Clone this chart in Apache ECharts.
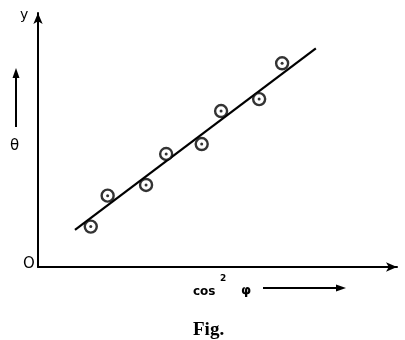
<!DOCTYPE html>
<html>
<head>
<meta charset="utf-8">
<script src="https://cdn.jsdelivr.net/npm/echarts@6/dist/echarts.min.js"></script>
<style>
  html, body { margin: 0; padding: 0; background: #fff; }
  #chart { width: 405px; height: 340px; }
</style>
</head>
<body>
<div id="chart"></div>
<script>
// measured points (cos^2 phi, theta), arbitrary units
const cosSq = [1.47, 1.94, 3.01, 3.57, 4.56, 5.10, 6.16, 6.80];
const theta = [1.59, 2.81, 3.23, 4.45, 4.84, 6.14, 6.61, 8.02];
// drawn best-fit line end points
const fitX = [1.03, 7.74];
const fitY = [1.46, 8.61];

const pts = cosSq.map((x, i) => [x, theta[i]]);
const fit = fitX.map((x, i) => [x, fitY[i]]);

const myChart = echarts.init(document.getElementById("chart"));

const axisCommon = {
  type: "value",
  min: 0,
  max: 10,
  axisLine: {
    show: true,
    onZero: false,
    symbol: ["none", "arrow"],
    symbolSize: [7, 11],
    symbolOffset: [0, 0],
    lineStyle: { color: "#000", width: 2 },
  },
  axisTick: { show: false },
  axisLabel: { show: false },
  splitLine: { show: false },
};

myChart.setOption({
  animation: false,
  title: {
    text: "Fig.",
    left: 188,
    top: 316,
    textStyle: {
      fontFamily: "Liberation Serif",
      fontWeight: "bold",
      fontSize: 19,
      color: "#000",
    },
  },
  grid: { left: 38, right: 8, top: 13, bottom: 73 },
  xAxis: axisCommon,
  yAxis: axisCommon,
  series: [
    {
      type: "line",
      data: fit,
      symbol: "none",
      lineStyle: { color: "#000", width: 2.2 },
      z: 2,
    },
    {
      type: "scatter",
      data: pts,
      symbol: "circle",
      symbolSize: 12,
      itemStyle: { color: "#fff", borderColor: "#000", borderWidth: 2.4 },
      z: 3,
    },
    {
      type: "scatter",
      data: pts,
      symbol: "circle",
      symbolSize: 3,
      itemStyle: { color: "#000" },
      z: 4,
    },
  ],
  graphic: [
    { type: "text", left: 20, top: 8, style: { text: "y", font: "14px DejaVu Sans", fill: "#000" } },
    { type: "text", left: 23, top: 257, style: { text: "O", font: "15px DejaVu Sans", fill: "#000" } },
    { type: "text", left: 10, top: 139, style: { text: "θ", font: "15px DejaVu Sans", fill: "#000" } },
    // theta arrow
    { type: "line", shape: { x1: 16, y1: 127, x2: 16, y2: 76 }, style: { stroke: "#000", lineWidth: 2 } },
    { type: "polygon", shape: { points: [[16, 68], [12.5, 78], [19.5, 78]] }, style: { fill: "#000" } },
    // x label
    { type: "text", left: 193, top: 286, style: { text: "cos", font: "bold 12px DejaVu Sans", fill: "#000" } },
    { type: "text", left: 220, top: 274, style: { text: "2", font: "bold 9px DejaVu Sans", fill: "#000" } },
    { type: "text", left: 241, top: 284, style: { text: "φ", font: "bold 13px DejaVu Sans", fill: "#000" } },
    // x label arrow
    { type: "line", shape: { x1: 263, y1: 288, x2: 338, y2: 288 }, style: { stroke: "#000", lineWidth: 2 } },
    { type: "polygon", shape: { points: [[346, 288], [336, 284.5], [336, 291.5]] }, style: { fill: "#000" } },
  ],
});
</script>
</body>
</html>
